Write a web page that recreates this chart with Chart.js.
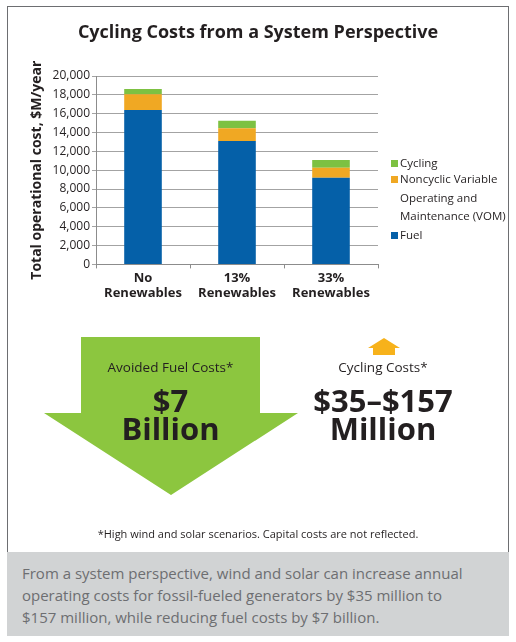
<!DOCTYPE html>
<html>
<head>
<meta charset="utf-8">
<script src="https://cdn.jsdelivr.net/npm/chart.js@4.4.1/dist/chart.umd.min.js"></script>
<style>
html,body{margin:0;padding:0;background:#fff;}
#wrap{position:relative;width:516px;height:642px;overflow:hidden;font-family:"Open Sans",sans-serif;color:#231f20;}
#frame{position:absolute;left:7px;top:6px;width:502px;height:547px;border:1.5px solid #6d6e71;border-bottom:none;box-sizing:border-box;}
#chart{position:absolute;left:0;top:0;}
#title{position:absolute;left:0;top:20px;width:516px;text-align:center;font-size:18px;line-height:22px;font-weight:700;color:#231f20;white-space:nowrap;}
#legend{position:absolute;left:0;top:0;width:516px;height:300px;pointer-events:none;}
.li{position:absolute;left:391px;font-size:11.5px;line-height:18.5px;white-space:nowrap;}
.sw{position:absolute;left:0;width:7px;height:7px;}
.lt{position:absolute;left:9px;top:0;}
#arrows{position:absolute;left:0;top:0;}
.t{position:absolute;text-align:center;white-space:nowrap;}
.small{font-size:13.5px;line-height:16px;color:#231f20;}
.big{font-size:31px;line-height:28px;font-weight:700;color:#231f20;}
#foot{position:absolute;left:0;width:516px;top:527px;text-align:center;font-size:11px;line-height:14px;}
#caption{position:absolute;left:7px;top:552px;width:502px;height:84px;background:#d1d3d4;box-sizing:border-box;padding:10px 0 0 15px;color:#6d6e71;font-size:15px;line-height:22px;}
</style>
</head>
<body>
<div id="wrap">
  <div id="frame"></div>
  <canvas id="chart" width="516" height="310"></canvas>
  <div id="title"></div>
  <div id="legend"></div>
  <svg id="arrows" width="516" height="642">
    <polygon points="81,337 260,337 260,413 298,413 171,495 44,413 81,413" fill="#8cc63f"/>
    <polygon points="384,338 400,348 395,348 395,355 373,355 373,348 368,348" fill="#f7b21b"/>
  </svg>
  <div class="t small" style="left:81px;width:179px;top:359px;">Avoided Fuel Costs*</div>
  <div class="t big" style="left:81px;width:179px;top:386px;">$7<br>Billion</div>
  <div class="t small" style="left:283px;width:200px;top:359px;">Cycling Costs*</div>
  <div class="t big" style="left:283px;width:200px;top:386px;">$35–$157<br>Million</div>
  <div id="foot">*High wind and solar scenarios. Capital costs are not reflected.</div>
  <div id="caption">From a system perspective, wind and solar can increase annual<br>operating costs for fossil-fueled generators by $35 million to<br>$157 million, while reducing fuel costs by $7 billion.</div>
</div>
<script>
// ---- data ----
const categories = [["No", "Renewables"], ["13%", "Renewables"], ["33%", "Renewables"]];
const fuel = [16400, 13100, 9200];
const vom = [1650, 1350, 1070];
const cycling = [580, 800, 820];
const seriesNames = ["Fuel", "Noncyclic Variable Operating and Maintenance (VOM)", "Cycling"];
const legendLines = [["Fuel"], ["Noncyclic Variable", "Operating and", "Maintenance (VOM)"], ["Cycling"]];
const seriesColors = ["#0560a8", "#f0a823", "#7dc142"];
const yMin = 0, yMax = 20000, yStep = 2000;
const chartTitle = "Cycling Costs from a System Perspective";
const yTitle = "Total operational cost, $M/year";

const FONT = '"Open Sans", sans-serif';
const DARK = '#231f20';
const AXIS = '#8c8c8c';

document.getElementById('title').textContent = chartTitle;

const ctx = document.getElementById('chart').getContext('2d');
new Chart(ctx, {
  type: 'bar',
  data: {
    labels: categories,
    datasets: [fuel, vom, cycling].map((d, i) => ({
      label: seriesNames[i],
      data: d,
      backgroundColor: seriesColors[i],
      borderWidth: 0,
      barPercentage: 0.4,
      categoryPercentage: 1.0
    }))
  },
  options: {
    responsive: false,
    devicePixelRatio: 1,
    animation: false,
    layout: { padding: { left: 20, right: 138, top: 76, bottom: 7 } },
    plugins: {
      legend: { display: false },
      tooltip: { enabled: false },
      title: { display: false }
    },
    scales: {
      x: {
        stacked: true,
        grid: { display: true, drawOnChartArea: false, drawTicks: true, tickLength: 4, color: AXIS, offset: true },
        border: { display: true, color: AXIS },
        ticks: { color: DARK, font: { family: FONT, size: 13, weight: 'bold', lineHeight: 1.1 }, padding: 3, maxRotation: 0, autoSkip: false }
      },
      y: {
        stacked: true,
        min: yMin, max: yMax,
        grid: { color: '#a3a3a3', tickLength: 4 },
        border: { display: true, color: AXIS },
        ticks: {
          stepSize: yStep,
          color: DARK,
          padding: 2,
          font: { family: FONT, size: 12 },
          callback: v => Number(v).toLocaleString('en-US')
        },
        title: {
          display: true,
          text: yTitle,
          color: DARK,
          font: { family: FONT, size: 14, weight: 'bold', lineHeight: 1.2 },
          padding: { top: 9, bottom: 0 }
        },
        afterFit: s => { s.width = 76; }
      }
    }
  }
});

// HTML legend (reverse order like the reference)
const legendTops = [154, 170, 226];
const lg = document.getElementById('legend');
[2, 1, 0].forEach((si, k) => {
  const item = document.createElement('div');
  item.className = 'li';
  item.style.top = legendTops[k] + 'px';
  const sw = document.createElement('div');
  sw.className = 'sw';
  sw.style.background = seriesColors[si];
  sw.style.top = '6px';
  const tx = document.createElement('div');
  tx.className = 'lt';
  tx.innerHTML = legendLines[si].join('<br>');
  item.appendChild(sw); item.appendChild(tx);
  lg.appendChild(item);
});
</script>
</body>
</html>
